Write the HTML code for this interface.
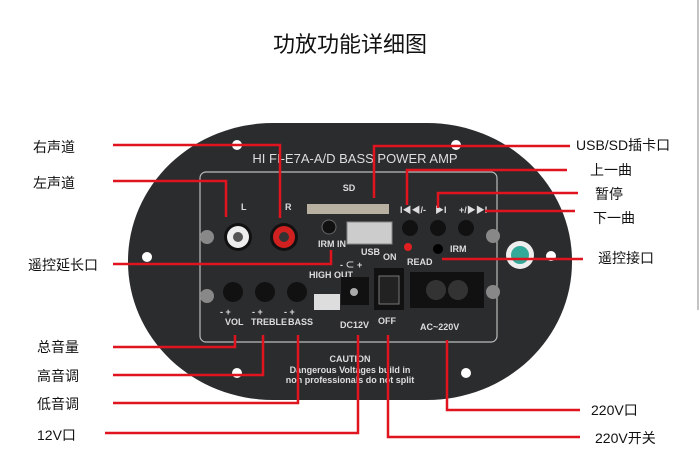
<!DOCTYPE html>
<html><head><meta charset="utf-8"><style>
body{margin:0;width:700px;height:476px;background:#fff;overflow:hidden}
svg{display:block}
text{font-family:"Liberation Sans","Noto Sans CJK SC",sans-serif}
.l{font-size:14px;fill:#111}
.w{fill:#ddd;font-size:9px;font-weight:bold}
.r{stroke:#e0141e;stroke-width:2.5;fill:none}
</style></head><body>
<svg width="700" height="476" viewBox="0 0 700 476">
<text x="350" y="52" text-anchor="middle" font-size="22" fill="#111">功放功能详细图</text>
<line x1="698" y1="0" x2="698" y2="310" stroke="#888" stroke-width="1"/>
<!-- board -->
<rect x="128" y="123" width="444" height="277" rx="145" ry="138" fill="#2b2c2e"/>
<rect x="200" y="172" width="297" height="170" rx="6" fill="none" stroke="#bbb" stroke-width="1.2"/>
<text x="355" y="163" text-anchor="middle" fill="#ddd" font-size="13" font-family="Liberation Serif">HI FI-E7A-A/D BASS POWER AMP</text>
<text x="349" y="191" class="w" font-size="11" text-anchor="middle">SD</text>
<rect x="307" y="204" width="82" height="10" fill="#b8b0a0"/>
<text x="241" y="210" class="w" font-size="10">L</text><text x="285" y="210" class="w" font-size="10">R</text>
<circle cx="238" cy="237" r="14" fill="#111"/><circle cx="238" cy="237" r="11" fill="#eee"/><circle cx="238" cy="237" r="5" fill="#555"/>
<circle cx="284" cy="237" r="14" fill="#111"/><circle cx="284" cy="237" r="11" fill="#d02020"/><circle cx="284" cy="237" r="5" fill="#333"/>
<circle cx="329" cy="227" r="7" fill="#111" stroke="#666"/>
<text x="318" y="247" class="w" font-size="8">IRM IN</text>
<rect x="347" y="222" width="45" height="22" fill="#ccc" stroke="#888"/>
<text x="361" y="255" class="w">USB</text><text x="383" y="260" class="w">ON</text><text x="407" y="265" class="w">READ</text>
<text x="400" y="213" class="w">I◀◀/-</text><text x="435" y="213" class="w">▶I</text><text x="459" y="213" class="w">+/▶▶I</text>
<circle cx="410" cy="228" r="8" fill="#111"/><circle cx="438" cy="228" r="8" fill="#111"/><circle cx="466" cy="228" r="8" fill="#111"/>
<circle cx="408" cy="247" r="4" fill="#e02020"/><circle cx="438" cy="249" r="5" fill="#000"/>
<text x="450" y="252" class="w">IRM</text>
<circle cx="207" cy="237" r="7" fill="#888"/><circle cx="207" cy="296" r="7" fill="#888"/>
<circle cx="493" cy="236" r="7" fill="#888"/><circle cx="493" cy="292" r="7" fill="#888"/>
<circle cx="520" cy="255" r="14" fill="#eee"/><circle cx="520" cy="255" r="9" fill="#3a9"/>
<circle cx="551" cy="256" r="5" fill="#fff"/><circle cx="147" cy="257" r="5" fill="#fff"/>
<circle cx="237" cy="145" r="5" fill="#fff"/><circle cx="456" cy="145" r="5" fill="#fff"/>
<circle cx="237" cy="373" r="5" fill="#fff"/><circle cx="466" cy="373" r="5" fill="#fff"/>
<circle cx="233" cy="292" r="10" fill="#111"/><circle cx="265" cy="292" r="10" fill="#111"/><circle cx="297" cy="292" r="10" fill="#111"/>
<text x="220" y="315" class="w">- +</text><text x="252" y="315" class="w">- +</text><text x="284" y="315" class="w">- +</text>
<text x="225" y="325" class="w" font-size="8">VOL</text><text x="251" y="325" class="w" font-size="8">TREBLE</text><text x="288" y="325" class="w" font-size="8">BASS</text>
<text x="309" y="278" class="w" font-size="7">HIGH OUT</text>
<rect x="314" y="294" width="26" height="16" fill="#ddd"/>
<text x="340" y="268" class="w">- ⊂ +</text>
<rect x="341" y="277" width="28" height="28" fill="#111"/><circle cx="354" cy="292" r="4" fill="#aaa"/>
<text x="340" y="328" class="w">DC12V</text>
<rect x="374" y="268" width="30" height="42" fill="#111"/><rect x="379" y="276" width="20" height="28" fill="#222" stroke="#777"/>
<text x="378" y="324" class="w">OFF</text>
<rect x="410" y="272" width="74" height="36" fill="#111"/><circle cx="436" cy="290" r="10" fill="#333"/><circle cx="458" cy="290" r="10" fill="#333"/>
<text x="420" y="330" class="w" font-size="10">AC~220V</text>
<text x="350" y="362" text-anchor="middle" class="w" font-size="11">CAUTION</text>
<text x="350" y="373" text-anchor="middle" class="w" font-size="8">Dangerous Voltages build in</text>
<text x="350" y="383" text-anchor="middle" class="w" font-size="8">non professionals do not split</text>
<!-- red leader lines -->
<path class="r" d="M113 145H280V218"/>
<path class="r" d="M113 181H226V217"/>
<path class="r" d="M113 264H331V250"/>
<path class="r" d="M113 347H235V335"/>
<path class="r" d="M113 375H263V335"/>
<path class="r" d="M113 403H298V335"/>
<path class="r" d="M105 433H358V335"/>
<path class="r" d="M580 437H388V335"/>
<path class="r" d="M580 410H447V340"/>
<path class="r" d="M570 146H374V198"/>
<path class="r" d="M567 170H407V205"/>
<path class="r" d="M578 193H438V208"/>
<path class="r" d="M575 211H485"/>
<path class="r" d="M583 259H442"/>
<!-- labels -->
<text x="33" y="152" class="l">右声道</text>
<text x="33" y="188" class="l">左声道</text>
<text x="28" y="270" class="l">遥控延长口</text>
<text x="37" y="352" class="l">总音量</text>
<text x="37" y="381" class="l">高音调</text>
<text x="37" y="409" class="l">低音调</text>
<text x="37" y="440" class="l">12V口</text>
<text x="576" y="150" class="l">USB/SD插卡口</text>
<text x="590" y="175" class="l">上一曲</text>
<text x="595" y="199" class="l">暂停</text>
<text x="593" y="223" class="l">下一曲</text>
<text x="598" y="263" class="l">遥控接口</text>
<text x="591" y="415" class="l">220V口</text>
<text x="595" y="443" class="l">220V开关</text>
</svg>
</body></html>
